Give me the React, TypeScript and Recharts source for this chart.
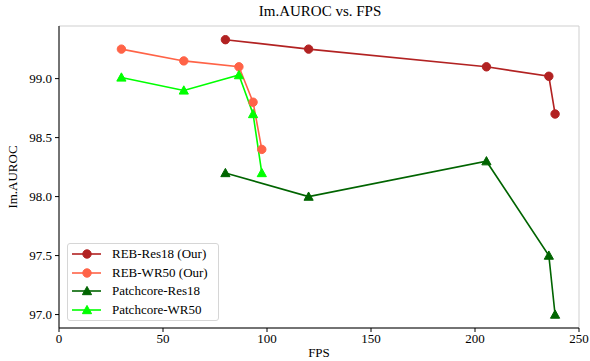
import React from 'react';
import { LineChart, Line, XAxis, YAxis, CartesianGrid } from 'recharts';

// FPS / Im.AUROC pairs
const rebRes18Fps = [80, 120, 205.5, 235.5, 238.5];
const rebRes18Auroc = [99.33, 99.25, 99.1, 99.02, 98.7];
const rebWr50Fps = [30, 60, 86.5, 93.3, 97.5];
const rebWr50Auroc = [99.25, 99.15, 99.1, 98.8, 98.4];
const pcRes18Fps = [80, 120, 205.5, 235.5, 238.5];
const pcRes18Auroc = [98.2, 98.0, 98.3, 97.5, 97.0];
const pcWr50Fps = [30, 60, 86.5, 93.3, 97.5];
const pcWr50Auroc = [99.01, 98.9, 99.03, 98.7, 98.2];

const xTicks = [0, 50, 100, 150, 200, 250];
const yTicks = [97.0, 97.5, 98.0, 98.5, 99.0];

const FONT = "'Liberation Serif', 'Times New Roman', Times, serif";

const toRows = (xs: number[], ys: number[]) => xs.map((fps, i) => ({ fps, auroc: ys[i] }));

const series = [
  { name: 'REB-Res18 (Our)', color: '#b22222', marker: 'circle', data: toRows(rebRes18Fps, rebRes18Auroc) },
  { name: 'REB-WR50 (Our)', color: '#ff6347', marker: 'circle', data: toRows(rebWr50Fps, rebWr50Auroc) },
  { name: 'Patchcore-Res18', color: '#006400', marker: 'triangle', data: toRows(pcRes18Fps, pcRes18Auroc) },
  { name: 'Patchcore-WR50', color: '#00ff00', marker: 'triangle', data: toRows(pcWr50Fps, pcWr50Auroc) },
];

function Marker({ cx, cy, color, marker }: any) {
  if (cx == null || cy == null) return null;
  if (marker === 'circle') return <circle cx={cx} cy={cy} r={4.2} fill={color} stroke={color} />;
  const s = 4.6;
  return (
    <polygon
      points={`${cx},${cy - s} ${cx - s},${cy + s * 0.8} ${cx + s},${cy + s * 0.8}`}
      fill={color}
      stroke={color}
    />
  );
}

export default function App() {
  return (
    <div style={{ position: 'absolute', left: 0, top: 0, width: 590, height: 361, background: '#fff', fontFamily: FONT }}>
      <div style={{ position: 'absolute', top: 3, left: 60, width: 520, textAlign: 'center', fontSize: 15, color: '#000' }}>
        Im.AUROC vs. FPS
      </div>
      <LineChart width={590} height={361} margin={{ top: 26, right: 11, bottom: 3, left: 0 }} style={{ fontFamily: FONT }}>
        <CartesianGrid stroke="#cfcfcf" strokeWidth={1} />
        <XAxis
          xAxisId="b"
          type="number"
          dataKey="fps"
          domain={[0, 250]}
          ticks={xTicks}
          allowDataOverflow
          height={30}
          tickSize={4}
          tickMargin={2}
          stroke="#000"
          tick={{ fill: '#000', fontSize: 13, fontFamily: FONT }}
          label={{ value: 'FPS', position: 'insideBottom', offset: 1, fill: '#000', fontSize: 13, fontFamily: FONT }}
        />
        <XAxis xAxisId="t" orientation="top" type="number" domain={[0, 250]} ticks={xTicks} tick={false} tickLine={false} stroke="#000" height={0} />
        <YAxis
          yAxisId="l"
          type="number"
          domain={[96.886, 99.446]}
          ticks={yTicks}
          allowDataOverflow
          width={59}
          tickSize={4}
          tickMargin={3}
          stroke="#000"
          tickFormatter={(v: number) => v.toFixed(1)}
          tick={{ fill: '#000', fontSize: 13, fontFamily: FONT }}
          label={{ value: 'Im.AUROC', angle: -90, position: 'insideLeft', offset: 12, fill: '#000', fontSize: 13, fontFamily: FONT, style: { textAnchor: 'middle' } }}
        />
        <YAxis yAxisId="r" orientation="right" type="number" domain={[96.886, 99.446]} ticks={yTicks} tick={false} tickLine={false} stroke="#000" width={0} />
        {series.map((s) => (
          <Line
            key={s.name}
            xAxisId="b"
            yAxisId="l"
            data={s.data}
            dataKey="auroc"
            name={s.name}
            stroke={s.color}
            strokeWidth={1.6}
            type="linear"
            isAnimationActive={false}
            dot={(p: any) => <Marker key={`${s.name}-${p.index}`} cx={p.cx} cy={p.cy} color={s.color} marker={s.marker} />}
            activeDot={false}
          />
        ))}
      </LineChart>
      <div
        style={{
          position: 'absolute',
          left: 67,
          top: 243,
          width: 152,
          height: 78,
          boxSizing: 'border-box',
          border: '1px solid #d6d6d6',
          borderRadius: 3,
          background: 'rgba(255,255,255,0.85)',
          padding: '1px 0 0 4px',
        }}
      >
        {series.map((s) => (
          <div key={s.name} style={{ display: 'flex', alignItems: 'center', height: 18.5, fontSize: 13, color: '#000' }}>
            <svg width={30} height={12} style={{ marginRight: 10 }}>
              <line x1={0} y1={6} x2={29} y2={6} stroke={s.color} strokeWidth={1.6} />
              <Marker cx={15} cy={6} color={s.color} marker={s.marker} />
            </svg>
            <span>{s.name}</span>
          </div>
        ))}
      </div>
    </div>
  );
}
